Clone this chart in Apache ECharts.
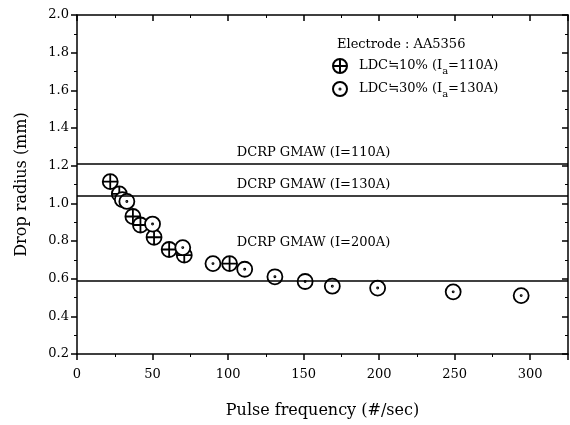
<!DOCTYPE html>
<html>
<head>
<meta charset="utf-8">
<script src="https://cdn.jsdelivr.net/npm/echarts@6/dist/echarts.min.js"></script>
<style>html,body{margin:0;padding:0;background:#fff;}#c{width:570px;height:425px;}</style>
</head>
<body>
<div id="c"></div>
<script>
var ldc10X = [22, 28, 37, 42, 51, 61, 71, 101];
var ldc10Y = [1.115, 1.05, 0.93, 0.885, 0.82, 0.755, 0.725, 0.68];
var ldc30X = [30, 33, 50, 70, 90, 111, 131, 151, 169, 199, 249, 294];
var ldc30Y = [1.02, 1.01, 0.89, 0.765, 0.68, 0.65, 0.61, 0.585, 0.56, 0.55, 0.53, 0.51];
var refValues = [1.21, 1.045, 0.595];
var refLabels = ['DCRP GMAW (I=110A)', 'DCRP GMAW (I=130A)', 'DCRP GMAW (I=200A)'];
var seriesNames = ['LDC10', 'LDC30'];

var FONT = 'DejaVu Serif';
var crossPath = 'path://M0,-8A8,8 0 1,1 0,8A8,8 0 1,1 0,-8Z M-8,0L8,0 M0,-8L0,8';
var dotPath = 'path://M0,-8A8,8 0 1,1 0,8A8,8 0 1,1 0,-8Z M0,-0.6A0.6,0.6 0 1,1 0,0.6A0.6,0.6 0 1,1 0,-0.6Z';

function pairs(xs, ys) { return xs.map(function (x, i) { return [x, ys[i]]; }); }

var chart = echarts.init(document.getElementById('c'), null, {renderer: 'canvas'});
var axisBase = {
  axisLine: {show: true, onZero: false, lineStyle: {color: '#000', width: 1.5}},
  splitLine: {show: false}
};
var labelDist = [5, 5, 31];
var option = {
  animation: false,
  backgroundColor: '#fff',
  grid: {left: 77, right: 2, top: 15, bottom: 71, containLabel: false},
  title: {
    text: 'Electrode : AA5356', left: 332, top: 33,
    textStyle: {fontFamily: FONT, fontSize: 13, fontWeight: 'normal', color: '#000'}
  },
  legend: {
    left: 327, top: 53, orient: 'vertical', itemGap: 5,
    itemWidth: 14, itemHeight: 14,
    data: seriesNames,
    formatter: function (n) {
      return n === 'LDC10' ? '{n|LDC}{q|≒}{n|10% (I}{s|a}{n|=110A)}' : '{n|LDC}{q|≒}{n|30% (I}{s|a}{n|=130A)}';
    },
    textStyle: {
      fontFamily: FONT, fontSize: 13, color: '#000', padding: [0, 0, 0, 7],
      rich: {
        n: {fontFamily: FONT, fontSize: 13, color: '#000'},
        q: {fontFamily: 'DejaVu Sans', fontSize: 13, color: '#000'},
        s: {fontFamily: FONT, fontSize: 10, color: '#000', padding: [10, 0, 0, 0]}
      }
    }
  },
  xAxis: [
    Object.assign({}, axisBase, {
      type: 'value', position: 'bottom', min: 0, max: 325, interval: 50,
      name: 'Pulse frequency (#/sec)', nameLocation: 'middle', nameGap: 49,
      nameTextStyle: {fontFamily: FONT, fontSize: 16, color: '#000'},
      axisTick: {show: true, inside: false, length: 6, lineStyle: {color: '#000', width: 1.5}},
      minorTick: {show: true, splitNumber: 2, length: 3, lineStyle: {color: '#000', width: 1}},
      axisLabel: {fontFamily: FONT, fontSize: 13, color: '#000', margin: 14, showMaxLabel: false}
    }),
    Object.assign({}, axisBase, {
      type: 'value', position: 'top', min: 0, max: 325, interval: 50,
      axisTick: {show: true, inside: true, length: 6, lineStyle: {color: '#000', width: 1.5}},
      minorTick: {show: true, splitNumber: 2, length: 3, lineStyle: {color: '#000', width: 1}},
      axisLabel: {show: false}
    })
  ],
  yAxis: [
    Object.assign({}, axisBase, {
      type: 'value', position: 'left', min: 0.2, max: 2.0, interval: 0.2,
      name: 'Drop radius (mm)', nameLocation: 'middle', nameGap: 47,
      nameTextStyle: {fontFamily: FONT, fontSize: 16, color: '#000'},
      axisTick: {show: true, inside: false, length: 6, lineStyle: {color: '#000', width: 1.5}},
      minorTick: {show: true, splitNumber: 2, length: 3, lineStyle: {color: '#000', width: 1}},
      axisLabel: {fontFamily: FONT, fontSize: 13, color: '#000', margin: 8,
        formatter: function (v) { return v.toFixed(1); }}
    }),
    Object.assign({}, axisBase, {
      type: 'value', position: 'right', min: 0.2, max: 2.0, interval: 0.2,
      axisTick: {show: true, inside: true, length: 6, lineStyle: {color: '#000', width: 1.5}},
      minorTick: {show: true, splitNumber: 2, length: 3, lineStyle: {color: '#000', width: 1}},
      axisLabel: {show: false}
    })
  ],
  series: [
    {
      name: 'LDC10', type: 'scatter', symbol: crossPath, symbolSize: 15,
      itemStyle: {color: '#fff', borderColor: '#000', borderWidth: 1.8, opacity: 1},
      data: pairs(ldc10X, ldc10Y),
      markLine: {
        silent: true, symbol: 'none', animation: false,
        lineStyle: {color: '#000', width: 1.5, type: 'solid'},
        label: {show: true, position: 'middle', color: '#000', fontFamily: FONT, fontSize: 13,
          padding: [0, 18, 0, 0]},
        data: refValues.map(function (v, i) {
          return {yAxis: v, label: {formatter: refLabels[i], distance: labelDist[i]}};
        })
      }
    },
    {
      name: 'LDC30', type: 'scatter', symbol: dotPath, symbolSize: 15,
      itemStyle: {color: '#fff', borderColor: '#000', borderWidth: 1.8, opacity: 1},
      data: pairs(ldc30X, ldc30Y)
    }
  ]
};
chart.setOption(option);
</script>
</body>
</html>
